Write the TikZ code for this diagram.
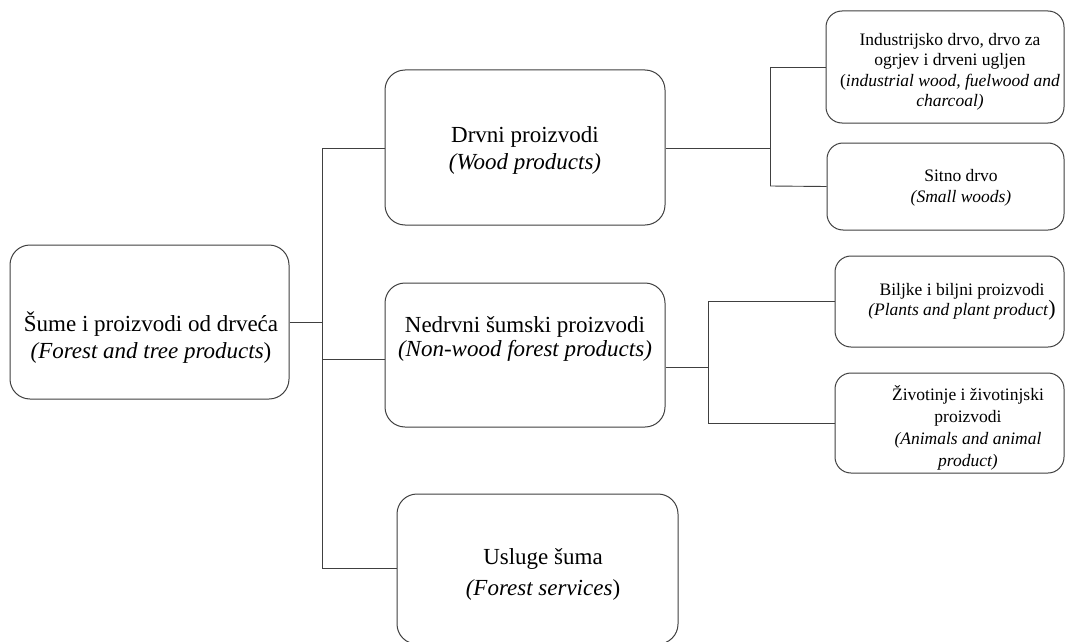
\documentclass[tikz,border=0pt]{standalone}
\usepackage{fontspec}
\setmainfont{LiberationSerif}[Extension=.ttf,UprightFont=*-Regular,ItalicFont=*-Italic,BoldFont=*-Bold,BoldItalicFont=*-BoldItalic]
\begin{document}
\begin{tikzpicture}[x=1pt,y=-1pt,
  box/.style={draw=black!75, line width=1pt, rounded corners=20pt, inner sep=0pt},
  sbox/.style={draw=black!75, line width=1pt, rounded corners=16pt, inner sep=0pt},
  conn/.style={draw=black!75, line width=0.9pt},
  big/.style={font=\fontsize{23}{27}\selectfont, align=center, inner sep=0pt},
  small/.style={font=\fontsize{17.5}{20.5}\selectfont, align=center, inner sep=0pt}]
\useasboundingbox (0,0) rectangle (1065,642);
\fill[white] (0,0) rectangle (1065,642);
% boxes
\node[box, minimum width=279pt, minimum height=154pt] (root) at (149.5,322) {};
\node[box, minimum width=280pt, minimum height=155pt] (drvni) at (525,147.5) {};
\node[box, minimum width=280pt, minimum height=144pt] (nedrvni) at (525,355) {};
\node[box, minimum width=281pt, minimum height=150pt] (usluge) at (537.5,569) {};
\node[sbox, minimum width=238pt, minimum height=112pt] (ind) at (945,67) {};
\node[sbox, minimum width=237pt, minimum height=87pt] (sitno) at (945.5,186.5) {};
\node[sbox, minimum width=229pt, minimum height=91pt] (bilj) at (949.5,301.5) {};
\node[sbox, minimum width=229pt, minimum height=100pt] (ziv) at (949.5,423) {};
% texts
\node[big] (roott) at (151,338) {Šume i proizvodi od drveća\\\textit{(Forest and tree products})};
\node[big] (drvnit) at (525,150) {Drvni proizvodi\\\textit{(Wood products)}};
\node[big, font=\fontsize{23}{24}\selectfont] (nedrvnit) at (525,338.5) {Nedrvni šumski proizvodi\\\textit{(Non-wood forest products)}};
\node[big, font=\fontsize{23}{31}\selectfont] (usluget) at (543,574) {Usluge šuma\\\textit{(Forest services})};
\node[small] (indt) at (950,72) {Industrijsko drvo, drvo za\\ogrjev i drveni ugljen\\(\textit{industrial wood, fuelwood and}\\\textit{charcoal)}};
\node[small] (sitnot) at (961,188) {Sitno drvo\\\textit{(Small woods)}};
\node[small] (biljt) at (962,302) {Biljke i biljni proizvodi\\\textit{(Plants and plant product}{\fontsize{22}{20}\selectfont)}};
\node[small, font=\fontsize{17.5}{22}\selectfont] (zivt) at (968,428) {Životinje i životinjski\\proizvodi\\\textit{(Animals and animal}\\\textit{product)}};
% connectors
\coordinate (ja) at (322,148);
\coordinate (jn) at (322,359);
\coordinate (jb) at (322,568);
\draw[conn] (root.east) -- (root.east -| ja);
\draw[conn] (ja) -- (jb);
\draw[conn] (ja) -- (ja -| drvni.west);
\draw[conn] (jn) -- (jn -| nedrvni.west);
\draw[conn] (jb) -- (jb -| usluge.west);
% wood products branch
\coordinate (ka) at (770,67);
\coordinate (kb) at (770,186);
\coordinate (kc) at (770,148);
\draw[conn] (kc -| drvni.east) -- (kc);
\draw[conn] (ka) -- (kb);
\draw[conn] (ka) -- (ind.west);
\draw[conn] (kb) -- (sitno.west);
% non-wood branch
\coordinate (ma) at (708,301.5);
\coordinate (mb) at (708,423);
\coordinate (mc) at (708,367);
\draw[conn] (mc -| nedrvni.east) -- (mc);
\draw[conn] (ma) -- (mb);
\draw[conn] (ma) -- (bilj.west);
\draw[conn] (mb) -- (ziv.west);
\end{tikzpicture}
\end{document}
